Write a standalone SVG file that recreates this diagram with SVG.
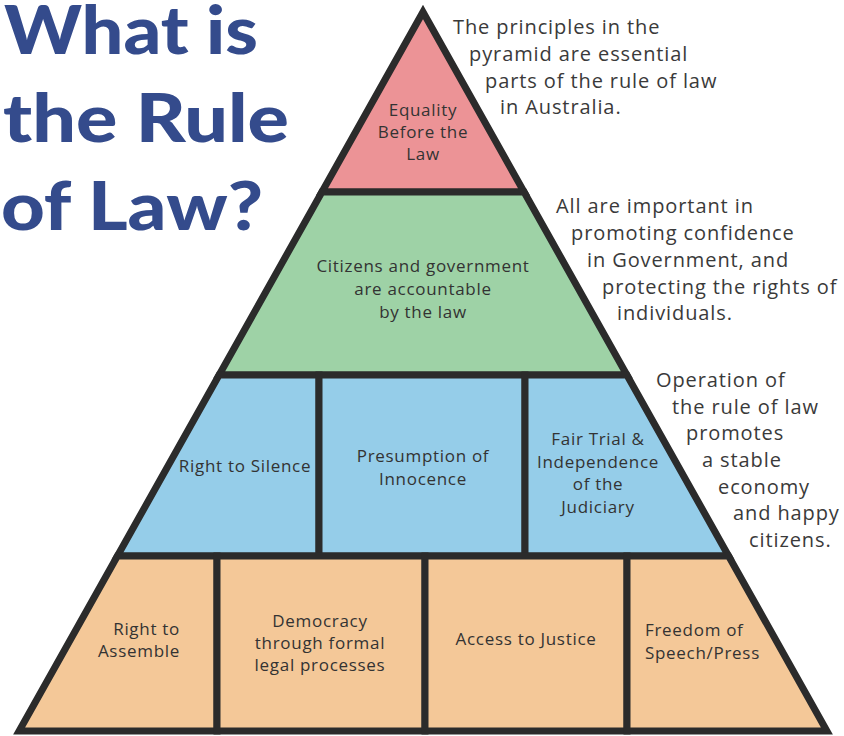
<svg xmlns="http://www.w3.org/2000/svg" width="844" height="736" viewBox="0 0 844 736">
<style>
.cell{stroke:#2b2b2b;stroke-width:7;stroke-linejoin:miter;stroke-miterlimit:10}
.red{fill:#EC9396}.green{fill:#9ED2A6}.blue{fill:#95CDE9}.orange{fill:#F4C898}
.lbl{font-family:"Open Sans","Liberation Sans",sans-serif;font-size:17px;letter-spacing:0.7px;fill:#333;text-anchor:middle}
.note{font-family:"Open Sans","Liberation Sans",sans-serif;font-size:20px;letter-spacing:0.9px;fill:#3a3a3a}
.title{font-family:Lato,"Liberation Sans",sans-serif;font-weight:900;font-size:67px;fill:#344B8C}
</style>
<rect width="844" height="736" fill="#fff"/>
<g id="title">
<text class="title" x="4" y="54" textLength="254" lengthAdjust="spacingAndGlyphs">What is</text>
<text class="title" x="3" y="142" textLength="286" lengthAdjust="spacingAndGlyphs">the Rule</text>
<text class="title" x="1" y="230" textLength="262" lengthAdjust="spacingAndGlyphs">of Law?</text>
</g>
<g id="equality">
<polygon class="cell red" points="423,12 524.1,192 321.9,192"/>
<text class="lbl" x="423" y="116">Equality</text>
<text class="lbl" x="423" y="138">Before the</text>
<text class="lbl" x="423" y="160">Law</text>
</g>
<g id="accountable">
<polygon class="cell green" points="321.9,192 524.1,192 626.9,375 219.1,375"/>
<text class="lbl" x="423" y="272">Citizens and government</text>
<text class="lbl" x="423" y="295">are accountable</text>
<text class="lbl" x="423" y="318">by the law</text>
</g>
<g id="silence">
<polygon class="cell blue" points="219.1,375 319,375 319,556 117.4,556"/>
<text class="lbl" x="245" y="472">Right to Silence</text>
</g>
<g id="innocence">
<polygon class="cell blue" points="319,375 525,375 525,556 319,556"/>
<text class="lbl" x="423" y="462">Presumption of</text>
<text class="lbl" x="423" y="485">Innocence</text>
</g>
<g id="fairtrial">
<polygon class="cell blue" points="525,375 626.9,375 728.6,556 525,556"/>
<text class="lbl" x="598" y="445">Fair Trial &amp;</text>
<text class="lbl" x="598" y="468">Independence</text>
<text class="lbl" x="598" y="490">of the</text>
<text class="lbl" x="598" y="513">Judiciary</text>
</g>
<g id="assemble">
<polygon class="cell orange" points="117.4,556 217,556 217,731 19.1,731"/>
<text class="lbl" x="180" y="635" style="text-anchor:end">Right to</text>
<text class="lbl" x="180" y="657" style="text-anchor:end">Assemble</text>
</g>
<g id="democracy">
<polygon class="cell orange" points="217,556 425,556 425,731 217,731"/>
<text class="lbl" x="320" y="627">Democracy</text>
<text class="lbl" x="320" y="649">through formal</text>
<text class="lbl" x="320" y="671">legal processes</text>
</g>
<g id="justice">
<polygon class="cell orange" points="425,556 627,556 627,731 425,731"/>
<text class="lbl" x="526" y="645">Access to Justice</text>
</g>
<g id="freedom">
<polygon class="cell orange" points="627,556 728.6,556 826.9,731 627,731"/>
<text class="lbl" x="645" y="636" style="text-anchor:start">Freedom of</text>
<text class="lbl" x="645" y="659" style="text-anchor:start">Speech/Press</text>
</g>
<g id="notes">
<text class="note" x="453" y="34">The principles in the</text>
<text class="note" x="469" y="61">pyramid are essential</text>
<text class="note" x="485" y="88">parts of the rule of law</text>
<text class="note" x="500" y="114">in Australia.</text>
<text class="note" x="556" y="213">All are important in</text>
<text class="note" x="571" y="240">promoting confidence</text>
<text class="note" x="587" y="267">in Government, and</text>
<text class="note" x="602" y="294">protecting the rights of</text>
<text class="note" x="617" y="320">individuals.</text>
<text class="note" x="656" y="387">Operation of</text>
<text class="note" x="672" y="414">the rule of law</text>
<text class="note" x="686" y="440">promotes</text>
<text class="note" x="702" y="467">a stable</text>
<text class="note" x="718" y="494">economy</text>
<text class="note" x="733" y="520">and happy</text>
<text class="note" x="749" y="547">citizens.</text>
</g>
</svg>
